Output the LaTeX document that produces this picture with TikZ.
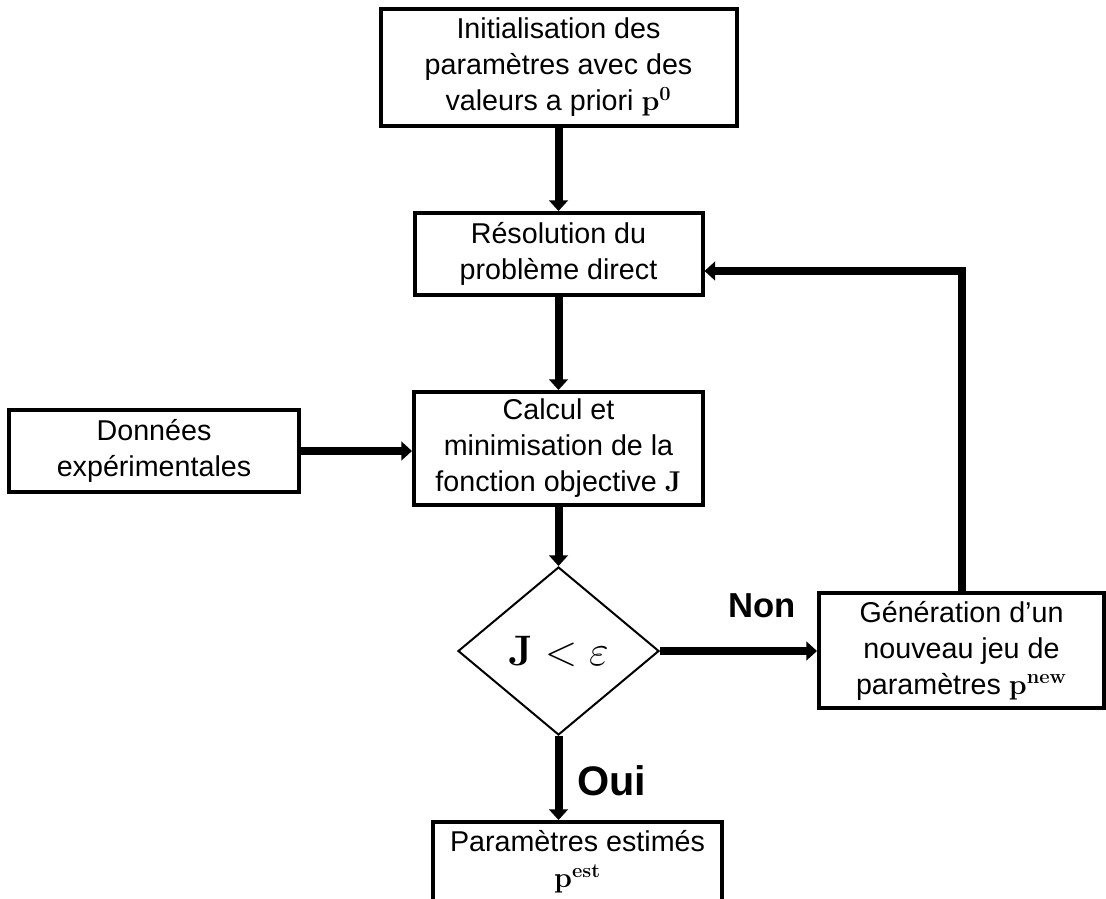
\RequirePackage{fix-cm}
\documentclass[tikz,border=0pt]{standalone}
\usepackage{amsmath}
\usepackage[no-math]{fontspec}
\setmainfont{Liberation Sans}
\usetikzlibrary{arrows.meta,shapes.geometric}
\begin{document}
\begin{tikzpicture}[x=0.75pt,y=-0.75pt,
  box/.style={draw,line width=3pt,align=center,inner sep=2pt,font=\fontsize{21.5}{27}\selectfont},
  arr/.style={line width=6pt,-{Triangle[width=14pt,length=8pt]}},
  dec/.style={draw,diamond,line width=1.5pt,inner sep=0pt,minimum width=150.75pt,minimum height=126pt,font=\fontsize{32}{36}\selectfont},
  lab/.style={font=\bfseries,anchor=base}]
\useasboundingbox (0,0) rectangle (1106,899);
\clip (0,0) rectangle (1106,899);
\node[box,minimum width=267pt,minimum height=87.75pt] (init) at (558.5,67.5)
  {Initialisation des\\paramètres avec des\\valeurs a priori $\mathbf{p}^{\mathbf{0}}$};
\node[box,minimum width=216pt,minimum height=61.5pt] (reso) at (558.5,254)
  {Résolution du\\problème direct};
\node[box,minimum width=216.75pt,minimum height=84.75pt] (calc) at (558.5,448.5)
  {Calcul et\\minimisation de la\\fonction objective $\mathbf{J}$};
\node[box,minimum width=217.5pt,minimum height=61.5pt] (donn) at (154,451)
  {Données\\expérimentales};
\node[dec] (test) at (558.5,651) {$\mathbf{J}<\varepsilon$};
\node[box,minimum width=213.75pt,minimum height=86.25pt] (gen) at (961.5,650.5)
  {Génération d’un\\nouveau jeu de\\paramètres $\mathbf{p}^{\mathbf{new}}$};
\node[box,minimum width=216.75pt,minimum height=60pt] (est) at (577.5,862)
  {Paramètres estimés\\$\mathbf{p}^{\mathbf{est}}$};
\node[lab,font=\bfseries\fontsize{26}{30}\selectfont] (non) at (762,617) {Non};
\node[lab,font=\bfseries\fontsize{31}{36}\selectfont] (oui) at (612,795) {Oui};
\coordinate (fby) at (0,271);
\draw[arr] (init.south) -- (reso.north);
\draw[arr] (reso.south) -- (calc.north);
\draw[arr] (donn.east) -- (donn.east -| calc.west);
\draw[arr] (calc.south) -- (test.north);
\draw[arr] (test.east) -- (test.east -| gen.west);
\draw[arr] (test.south) -- (test.south |- est.north);
\draw[arr] (gen.north) -- (gen.north |- fby) -- (reso.east |- fby);
\end{tikzpicture}
\end{document}
